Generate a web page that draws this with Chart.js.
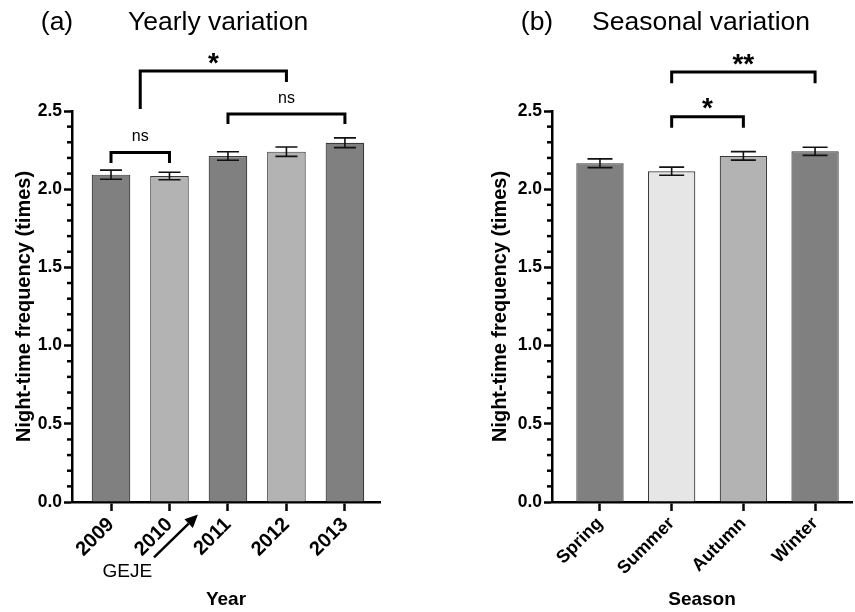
<!DOCTYPE html>
<html>
<head>
<meta charset="utf-8">
<script src="https://cdn.jsdelivr.net/npm/chart.js@4.4.0/dist/chart.umd.min.js"></script>
<style>
  html, body { margin: 0; padding: 0; background: #fff; }
  #wrap { position: relative; width: 855px; height: 612px; }
  canvas { position: absolute; top: 0; }
  #chartA { left: 0; }
  #chartB { left: 430px; }
</style>
</head>
<body>
<div id="wrap">
  <canvas id="chartA" width="430" height="612"></canvas>
  <canvas id="chartB" width="425" height="612"></canvas>
</div>
<script>
// ---- data ----
const yearCats = ['2009', '2010', '2011', '2012', '2013'];
const yearMeans = [2.093, 2.084, 2.212, 2.240, 2.297];
const yearErrs = [0.029, 0.024, 0.027, 0.030, 0.031];

const seasonCats = ['Spring', 'Summer', 'Autumn', 'Winter'];
const seasonMeans = [2.166, 2.115, 2.213, 2.242];
const seasonErrs = [0.028, 0.026, 0.027, 0.026];

const yMajorTicks = [0, 0.5, 1.0, 1.5, 2.0, 2.5];
const yMinorStep = 0.1;

// significance brackets (x in category index, y in data units)
const yearBrackets = [
  { from: 0, to: 1, top: 2.234, legs: [2.168, 2.168], label: 'ns', labelY: 2.334 },
  { from: 2, to: 4, top: 2.481, legs: [2.417, 2.417], label: 'ns', labelY: 2.577 },
  { from: 0.5, to: 3, top: 2.755, legs: [2.513, 2.685], label: '*', labelY: 2.838 }
];
const seasonBrackets = [
  { from: 1, to: 2, top: 2.464, legs: [2.393, 2.393], label: '*', labelY: 2.551 },
  { from: 1, to: 3, top: 2.749, legs: [2.677, 2.677], label: '**', labelY: 2.832 }
];

// GEJE arrow (category index / data units, below the axis)
const gejeArrow = { from: [0.735, -0.354], to: [1.487, -0.08], text: 'GEJE', textAt: [0.28, -0.444] };

const FONT = "'Liberation Sans', Arial, Helvetica, sans-serif";
const DARK = '#808080', MID = '#b3b3b3', LIGHT = '#e6e6e6';

Chart.defaults.font.family = FONT;
Chart.defaults.color = '#000';

// draws minor ticks, error bars, brackets, titles, arrow
const extras = {
  id: 'extras',
  afterDraw(chart, args, o) {
    const ctx = chart.ctx;
    const xs = chart.scales.x, ys = chart.scales.y;
    const area = chart.chartArea;
    const meta = chart.getDatasetMeta(0);
    ctx.save();

    // minor ticks
    ctx.strokeStyle = '#000';
    ctx.lineWidth = 2.5;
    const nMinor = Math.round(ys.max / yMinorStep);
    for (let i = 1; i < nMinor; i++) {
      if (i % 5 === 0) continue;
      const py = ys.getPixelForValue(i * yMinorStep);
      ctx.beginPath();
      ctx.moveTo(area.left - 5, py);
      ctx.lineTo(area.left, py);
      ctx.stroke();
    }

    // error bars
    ctx.strokeStyle = '#111';
    ctx.lineWidth = 1.6;
    o.means.forEach((m, i) => {
      const x = meta.data[i].x;
      const y1 = ys.getPixelForValue(m + o.errs[i]);
      const y2 = ys.getPixelForValue(m - o.errs[i]);
      const h = o.cap / 2;
      ctx.beginPath();
      ctx.moveTo(x, y1); ctx.lineTo(x, y2);
      ctx.moveTo(x - h, y1); ctx.lineTo(x + h, y1);
      ctx.moveTo(x - h, y2); ctx.lineTo(x + h, y2);
      ctx.stroke();
    });

    // brackets
    ctx.lineWidth = 3;
    ctx.lineJoin = 'miter';
    ctx.lineCap = 'butt';
    ctx.strokeStyle = '#000';
    ctx.fillStyle = '#000';
    o.brackets.forEach(b => {
      const x1 = xs.getPixelForValue(b.from), x2 = xs.getPixelForValue(b.to);
      const yt = ys.getPixelForValue(b.top);
      ctx.beginPath();
      ctx.moveTo(x1, ys.getPixelForValue(b.legs[0]));
      ctx.lineTo(x1, yt);
      ctx.lineTo(x2, yt);
      ctx.lineTo(x2, ys.getPixelForValue(b.legs[1]));
      ctx.stroke();
      const isStar = b.label.indexOf('*') >= 0;
      ctx.font = isStar ? 'bold 28px ' + FONT : '16px ' + FONT;
      ctx.textAlign = 'center';
      ctx.textBaseline = 'alphabetic';
      const mt = ctx.measureText(b.label);
      const cy = ys.getPixelForValue(b.labelY);
      ctx.fillText(b.label, (x1 + x2) / 2, cy + (mt.actualBoundingBoxAscent - mt.actualBoundingBoxDescent) / 2);
    });

    // panel titles
    ctx.font = '26.5px ' + FONT;
    ctx.textBaseline = 'alphabetic';
    o.titles.forEach(t => {
      ctx.textAlign = t.align;
      ctx.fillText(t.text, t.x, 30);
    });

    // arrow annotation
    if (o.arrow) {
      const a = o.arrow;
      const fx = xs.getPixelForValue(a.from[0]), fy = ys.getPixelForValue(a.from[1]);
      const tx = xs.getPixelForValue(a.to[0]), ty = ys.getPixelForValue(a.to[1]);
      const ang = Math.atan2(ty - fy, tx - fx);
      const hl = 13, hw = 6;
      const bx = tx - hl * Math.cos(ang), by = ty - hl * Math.sin(ang);
      ctx.lineWidth = 2.5;
      ctx.beginPath();
      ctx.moveTo(fx, fy); ctx.lineTo(bx, by);
      ctx.stroke();
      ctx.beginPath();
      ctx.moveTo(tx, ty);
      ctx.lineTo(bx + hw * Math.sin(ang), by - hw * Math.cos(ang));
      ctx.lineTo(bx - hw * Math.sin(ang), by + hw * Math.cos(ang));
      ctx.closePath();
      ctx.fill();
      ctx.font = '19px ' + FONT;
      ctx.textAlign = 'center';
      ctx.textBaseline = 'middle';
      ctx.fillText(a.text, xs.getPixelForValue(a.textAt[0]), ys.getPixelForValue(a.textAt[1]));
    }
    ctx.restore();
  }
};

function makeChart(id, cats, means, errs, colors, s) {
  new Chart(document.getElementById(id).getContext('2d'), {
    type: 'bar',
    data: {
      datasets: [{
        data: means.map((v, i) => ({ x: i, y: v })),
        backgroundColor: colors,
        borderColor: '#3a3a3a',
        borderWidth: 1.2,
        barPercentage: 0.66,
        categoryPercentage: 1
      }]
    },
    options: {
      responsive: false,
      animation: false,
      layout: { padding: s.padding },
      plugins: {
        legend: { display: false },
        tooltip: { enabled: false },
        extras: { means: means, errs: errs, cap: s.cap, brackets: s.brackets, titles: s.titles, arrow: s.arrow }
      },
      scales: {
        x: {
          type: 'linear',
          min: s.xMin, max: s.xMax,
          offset: false,
          z: 1,
          afterBuildTicks: sc => { sc.ticks = cats.map((c, i) => ({ value: i })); },
          afterFit: sc => { sc.height = 110; sc.paddingLeft = 0; sc.paddingRight = 0; },
          ticks: {
            autoSkip: false, maxRotation: 45, minRotation: 45, padding: 2,
            color: '#000', font: { size: s.xTickSize, weight: 'bold' },
            callback: v => cats[v]
          },
          grid: { offset: false, drawOnChartArea: false, tickLength: 9, tickWidth: 2.5, tickColor: '#000' },
          border: { color: '#000', width: 2.5 },
          title: { display: true, text: s.xTitle, color: '#000', font: { size: 19, weight: 'bold' }, padding: { top: 0, bottom: 1 } }
        },
        y: {
          min: 0, max: 2.5,
          z: 1,
          afterBuildTicks: sc => { sc.ticks = yMajorTicks.map(v => ({ value: v })); },
          afterFit: sc => { sc.width = 72; },
          ticks: { padding: 2, color: '#000', font: { size: 17.5, weight: 'bold' }, callback: v => v.toFixed(1) },
          grid: { drawOnChartArea: false, tickLength: 8, tickWidth: 2.5, tickColor: '#000' },
          border: { color: '#000', width: 2.5 },
          title: { display: true, text: 'Night-time frequency (times)', color: '#000', font: { size: 20, weight: 'bold' }, padding: { top: s.yTitlePad, bottom: 0 } }
        }
      }
    },
    plugins: [extras]
  });
}

makeChart('chartA', yearCats, yearMeans, yearErrs, [DARK, MID, DARK, MID, DARK], {
  padding: { top: 111, left: 0, right: 50, bottom: 0 },
  xMin: -0.667, xMax: 4.6,
  cap: 22,
  brackets: yearBrackets,
  titles: [{ text: '(a)', x: 57, align: 'center' }, { text: 'Yearly variation', x: 128, align: 'left' }],
  arrow: gejeArrow,
  xTitle: 'Year',
  xTickSize: 20,
  yTitlePad: 12
});

makeChart('chartB', seasonCats, seasonMeans, seasonErrs, [DARK, LIGHT, MID, DARK], {
  padding: { top: 111, left: 50, right: 3, bottom: 0 },
  xMin: -0.669, xMax: 3.515,
  cap: 25,
  brackets: seasonBrackets,
  titles: [{ text: '(b)', x: 107, align: 'center' }, { text: 'Seasonal variation', x: 162, align: 'left' }],
  arrow: null,
  xTitle: 'Season',
  xTickSize: 18,
  yTitlePad: 8
});
</script>
</body>
</html>
